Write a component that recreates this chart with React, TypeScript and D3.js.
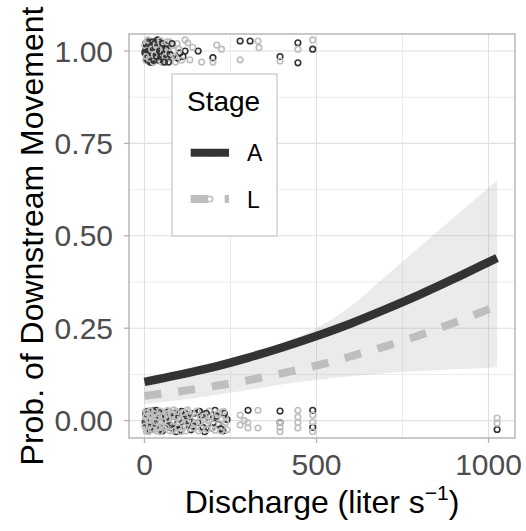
import React from 'react';
import * as d3 from 'd3';

// ---------- data ----------
const xTicks = [0, 500, 1000];
const xMinorTicks = [250, 750];
const yTicks = [0, 0.25, 0.5, 0.75, 1];
const yMinorTicks = [0.125, 0.375, 0.625, 0.875];
const yTickLabels = ['0.00', '0.25', '0.50', '0.75', '1.00'];
const stages = ['A', 'L'];

// fitted probability curves
const fitX = [0, 100, 200, 300, 400, 500, 600, 700, 800, 900, 1000, 1025];
const fitA = [0.105, 0.124, 0.145, 0.17, 0.198, 0.229, 0.263, 0.301, 0.341, 0.384, 0.429, 0.44];
const fitL = [0.067, 0.079, 0.093, 0.109, 0.128, 0.149, 0.174, 0.201, 0.231, 0.265, 0.301, 0.31];
// confidence band
const bandUpper = [0.115, 0.13, 0.15, 0.175, 0.21, 0.25, 0.31, 0.39, 0.47, 0.55, 0.63, 0.65];
const bandLower = [0.045, 0.055, 0.068, 0.083, 0.098, 0.11, 0.12, 0.128, 0.134, 0.139, 0.143, 0.145];

// observations (discharge, jittered 0/1 outcome)
const topA: [number, number][] = [
  [3, 1.02], [5, 0.99], [8, 1.01], [10, 0.975], [12, 1.025], [15, 1.0], [18, 0.985], [20, 1.015],
  [22, 0.97], [25, 1.005], [28, 1.02], [30, 0.98], [33, 0.995], [36, 1.01], [40, 0.975], [42, 1.025],
  [45, 0.99], [50, 1.005], [55, 0.98], [60, 1.015], [65, 0.99], [70, 0.97], [97, 0.981], [103, 0.995],
  [112, 0.985], [156, 1.0], [199, 0.982], [278, 1.027], [307, 1.027], [394, 0.985], [446, 1.022],
  [446, 0.968], [489, 1.005],
  [1, 0.995], [4, 1.005], [7, 0.98], [11, 1.0], [14, 1.02], [17, 0.97], [21, 0.995], [24, 1.025],
  [27, 0.975], [32, 1.01], [35, 0.985], [38, 1.03], [44, 1.0], [48, 0.985], [53, 1.02], [58, 0.97],
  [63, 1.005], [75, 0.99], [80, 1.02], [118, 1.0],
];
const topL: [number, number][] = [
  [2, 1.0], [4, 0.975], [6, 1.025], [9, 0.99], [13, 1.01], [16, 0.97], [19, 1.02], [23, 0.985],
  [27, 1.0], [31, 1.025], [35, 0.975], [38, 1.005], [43, 1.015], [47, 0.98], [52, 1.02], [57, 0.995],
  [62, 0.975], [68, 1.01], [73, 1.025], [78, 0.985], [85, 1.0], [90, 0.97], [95, 1.02], [118, 1.03],
  [126, 1.022], [132, 0.976], [166, 0.97], [199, 0.97], [210, 1.016], [224, 1.005], [278, 0.976],
  [330, 1.027], [333, 1.009], [394, 0.973], [446, 1.005], [489, 1.03],
  [1, 1.015], [5, 0.985], [11, 1.03], [14, 0.98], [21, 1.005], [26, 0.97], [29, 0.99], [34, 1.015],
  [40, 1.0], [46, 1.028], [50, 0.97], [55, 1.01], [60, 0.985], [66, 1.025], [70, 0.995], [82, 1.015],
  [88, 0.985], [100, 1.005], [108, 0.975], [140, 1.01],
];
const botA: [number, number][] = [
  [3, 0.02], [6, -0.01], [10, 0.025], [14, -0.025], [18, 0.005], [22, 0.015], [26, -0.02], [30, 0.0],
  [34, 0.028], [38, -0.015], [45, 0.01], [52, -0.028], [58, 0.02], [64, -0.005], [70, 0.025],
  [78, -0.02], [85, 0.012], [92, -0.03], [100, 0.005], [108, 0.025], [115, -0.015], [125, 0.01],
  [135, -0.025], [145, 0.02], [155, -0.005], [165, 0.015], [175, -0.03], [185, 0.01], [195, -0.02],
  [205, 0.028], [215, -0.01], [228, -0.028], [240, 0.003], [301, 0.028], [394, 0.026],
  [394, -0.005], [489, 0.028], [489, -0.018], [1025, -0.024],
  [2, -0.005], [8, 0.018], [16, -0.018], [24, 0.026], [32, -0.008], [42, 0.022], [48, -0.022],
  [62, 0.008], [74, -0.012], [88, 0.02], [96, -0.01], [104, -0.026], [120, 0.018], [130, 0.0],
  [140, -0.015], [160, 0.025], [170, -0.018], [180, 0.02], [200, -0.005], [210, 0.012], [222, -0.022],
  [232, 0.02],
];
const botL: [number, number][] = [
  [2, 0.0], [4, 0.025], [7, -0.02], [9, 0.012], [12, -0.03], [16, 0.018], [20, -0.008], [24, 0.028],
  [28, -0.018], [32, 0.008], [36, -0.028], [40, 0.02], [44, -0.005], [48, 0.015], [54, -0.022],
  [60, 0.0], [66, 0.027], [72, -0.012], [76, 0.01], [82, -0.026], [88, 0.022], [95, -0.008],
  [102, 0.017], [110, -0.022], [118, 0.004], [128, 0.024], [138, -0.012], [148, 0.009], [158, -0.028],
  [168, 0.02], [178, -0.01], [188, 0.026], [198, -0.02], [208, 0.006], [218, 0.022], [226, -0.016],
  [234, 0.012], [240, -0.025], [278, 0.015], [278, -0.012], [290, 0.0], [300, -0.005], [301, -0.02],
  [330, 0.028], [330, -0.02], [394, -0.004], [394, -0.018], [394, -0.03], [446, 0.028], [446, 0.01],
  [446, -0.005], [446, -0.02], [489, 0.015], [489, -0.004], [489, -0.03], [1025, 0.007], [1025, -0.007],
  [1, -0.015], [3, 0.01], [5, -0.028], [8, 0.022], [11, 0.003], [14, -0.012], [17, 0.027], [21, 0.012],
  [25, -0.025], [29, 0.018], [33, -0.003], [37, 0.01], [41, -0.02], [46, 0.026], [50, -0.012],
  [56, 0.012], [62, -0.018], [68, 0.005], [74, -0.028], [80, 0.016], [86, -0.002], [92, 0.025],
  [98, -0.018], [105, 0.0], [112, 0.022], [120, -0.028], [124, -0.005], [132, 0.014], [142, -0.02],
  [152, 0.026], [162, -0.004], [172, 0.012], [182, -0.024], [192, 0.008], [202, -0.01], [212, 0.018],
  [222, -0.028], [230, 0.025], [236, -0.005], [15, 0.002], [45, -0.03], [65, 0.018], [85, 0.029],
  [105, -0.03], [125, 0.029], [145, -0.01], [165, -0.022], [185, 0.0], [205, -0.026], [225, 0.004],
];

// ---------- layout ----------
const W = 526;
const H = 531;
const P = { left: 129, right: 515, top: 34, bottom: 438 };
const FONT = 'Liberation Sans, Arial, Helvetica, sans-serif';
const colA = '#333333';
const colL = '#bebebe';

export default function App() {
  const x = d3.scaleLinear().domain([-45, 1077]).range([P.left, P.right]);
  const y = d3.scaleLinear().domain([-0.047, 1.046]).range([P.bottom, P.top]);

  const line = d3
    .line<number>()
    .x((_, i) => x(fitX[i]))
    .y((d) => y(d))
    .curve(d3.curveMonotoneX);
  const area = d3
    .area<number>()
    .x((_, i) => x(fitX[i]))
    .y0((_, i) => y(bandLower[i]))
    .y1((d) => y(d))
    .curve(d3.curveMonotoneX);

  const legend = { x: 172, y: 74, w: 105, h: 162 };
  const keyX0 = 190.7;
  const keyX1 = 229;
  const keyYs = [152.7, 199];

  // interleave the two stages so neither colour fully covers the other
  const mixed: { p: [number, number]; c: string }[] = [];
  const addMixed = (a: [number, number][], b: [number, number][]) => {
    const n = Math.max(a.length, b.length);
    for (let i = 0; i < n; i++) {
      if (i < b.length) mixed.push({ p: b[i], c: colL });
      if (i < a.length) mixed.push({ p: a[i], c: colA });
    }
  };
  addMixed(topA, topL);
  addMixed(botA, botL);

  return (
    <div style={{ position: 'absolute', left: 0, top: 0 }}>
      <svg width={W} height={H} style={{ display: 'block', background: '#fff' }} fontFamily={FONT}>
        <defs>
          <clipPath id="panel">
            <rect x={P.left} y={P.top} width={P.right - P.left} height={P.bottom - P.top} />
          </clipPath>
        </defs>
        <rect x={0} y={0} width={W} height={H} fill="#fff" />
        {/* grid */}
        <g>
          {xMinorTicks.map((t) => (
            <line key={'xm' + t} x1={x(t)} x2={x(t)} y1={P.top} y2={P.bottom} stroke="#ebebeb" strokeWidth={1} />
          ))}
          {yMinorTicks.map((t) => (
            <line key={'ym' + t} x1={P.left} x2={P.right} y1={y(t)} y2={y(t)} stroke="#ebebeb" strokeWidth={1} />
          ))}
          {xTicks.map((t) => (
            <line key={'x' + t} x1={x(t)} x2={x(t)} y1={P.top} y2={P.bottom} stroke="#e0e0e0" strokeWidth={1.1} />
          ))}
          {yTicks.map((t) => (
            <line key={'y' + t} x1={P.left} x2={P.right} y1={y(t)} y2={y(t)} stroke="#e0e0e0" strokeWidth={1.1} />
          ))}
        </g>
        {/* points */}
        <g fill="none" strokeWidth={1.6} clipPath="url(#panel)">
          {mixed.map((m, i) => (
            <circle key={'p' + i} cx={x(m.p[0])} cy={y(m.p[1])} r={2.8} stroke={m.c} />
          ))}
        </g>
        {/* band */}
        <path d={area(bandUpper) || ''} fill="#9a9a9a" fillOpacity={0.2} />
        {/* fitted lines */}
        <path d={line(fitL) || ''} fill="none" stroke={colL} strokeWidth={8} strokeDasharray="17,17" />
        <path d={line(fitA) || ''} fill="none" stroke={colA} strokeWidth={8.5} />
        {/* panel border */}
        <rect x={P.left} y={P.top} width={P.right - P.left} height={P.bottom - P.top} fill="none" stroke="#b3b3b3" strokeWidth={1.4} />
        {/* axes ticks */}
        {xTicks.map((t) => (
          <g key={'xt' + t}>
            <line x1={x(t)} x2={x(t)} y1={P.bottom} y2={P.bottom + 5} stroke="#b3b3b3" strokeWidth={1.3} />
            <text x={x(t)} y={475} textAnchor="middle" fontSize={30} fill="#4d4d4d">
              {String(t)}
            </text>
          </g>
        ))}
        {yTicks.map((t, i) => (
          <g key={'yt' + t}>
            <line x1={P.left - 5} x2={P.left} y1={y(t)} y2={y(t)} stroke="#b3b3b3" strokeWidth={1.3} />
            <text x={113} y={y(t) + 10.5} textAnchor="end" fontSize={30} fill="#4d4d4d">
              {yTickLabels[i]}
            </text>
          </g>
        ))}
        {/* axis titles */}
        <text x={(P.left + P.right) / 2} y={513} textAnchor="middle" fontSize={32} fill="#000">
          Discharge (liter s
          <tspan dy={-13} fontSize={21}>
            −1
          </tspan>
          <tspan dy={13} fontSize={32}>
            )
          </tspan>
        </text>
        <text
          transform={`translate(43,${(P.top + P.bottom) / 2}) rotate(-90)`}
          textAnchor="middle"
          fontSize={32}
          fill="#000"
        >
          Prob. of Downstream Movement
        </text>
        {/* legend */}
        <rect x={legend.x} y={legend.y} width={legend.w} height={legend.h} fill="#fff" stroke="#d0d0d0" strokeWidth={1.5} />
        <text x={187} y={110.7} fontSize={28} fill="#000">
          Stage
        </text>
        {stages.map((s, i) => (
          <g key={s}>
            <line
              x1={keyX0}
              x2={keyX1}
              y1={keyYs[i]}
              y2={keyYs[i]}
              stroke={i === 0 ? colA : colL}
              strokeWidth={8}
              strokeDasharray={i === 0 ? undefined : '17,17'}
            />
            <circle cx={(keyX0 + keyX1) / 2} cy={keyYs[i]} r={2.8} fill="none" stroke={i === 0 ? colA : colL} strokeWidth={1.6} />
            <text x={247} y={keyYs[i] + 8.5} fontSize={23} fill="#000">
              {s}
            </text>
          </g>
        ))}
      </svg>
    </div>
  );
}
